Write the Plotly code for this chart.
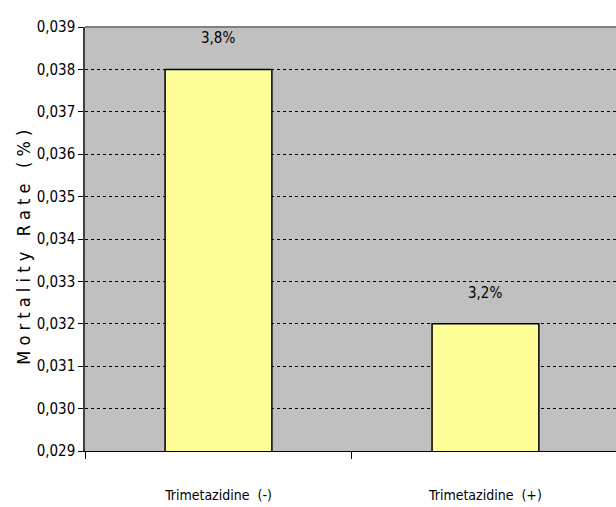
import plotly.graph_objects as go

categories = ["Trimetazidine  (-)", "Trimetazidine  (+)"]
values = [0.038, 0.032]
y_ticks = [0.029, 0.030, 0.031, 0.032, 0.033, 0.034, 0.035, 0.036, 0.037, 0.038, 0.039]

FONT = "Liberation Sans Narrow, Arial Narrow, DejaVu Sans Condensed, sans-serif"

fig = go.Figure()
fig.add_trace(go.Bar(
    x=categories, y=values, width=0.4,
    marker=dict(color="#FFFF99", line=dict(color="black", width=1.5)),
))

for c, v in zip(categories, values):
    fig.add_annotation(x=c, y=v, text=f"{v*100:.1f}%".replace(".", ","),
                       showarrow=False, yshift=31, font=dict(size=15, color="black", family=FONT))

fig.add_annotation(xref="paper", yref="paper", x=-0.14, y=0.48,
                   text="M o r t a l i t y   R a t e   ( % )", textangle=-90,
                   showarrow=False, font=dict(size=18, color="black", family=FONT))

fig.add_shape(type="line", xref="paper", yref="paper", x0=0, x1=1, y0=1, y1=1,
              line=dict(color="#808080", width=2))

fig.update_layout(
    width=616, height=507,
    margin=dict(l=85, r=0, t=27, b=56),
    paper_bgcolor="white", plot_bgcolor="#C0C0C0",
    showlegend=False,
    separators=",.",
    font=dict(family=FONT, color="black"),
    xaxis=dict(range=[-0.5, 1.489], tickson="boundaries", ticks="outside", ticklen=7,
               tickcolor="black", showline=True, linecolor="black", linewidth=1,
               showgrid=False, ticklabelstandoff=31, tickfont=dict(size=14, family=FONT)),
    yaxis=dict(range=[0.029, 0.039], tickvals=y_ticks, tickformat=".3f",
               ticks="outside", ticklen=5, tickcolor="black",
               showline=True, linecolor="#404040", linewidth=1.5,
               showgrid=True, gridcolor="black", griddash="dot", gridwidth=1,
               zeroline=False, tickfont=dict(size=15, family=FONT)),
    bargap=0.6,
)

fig.write_html("out.html")
